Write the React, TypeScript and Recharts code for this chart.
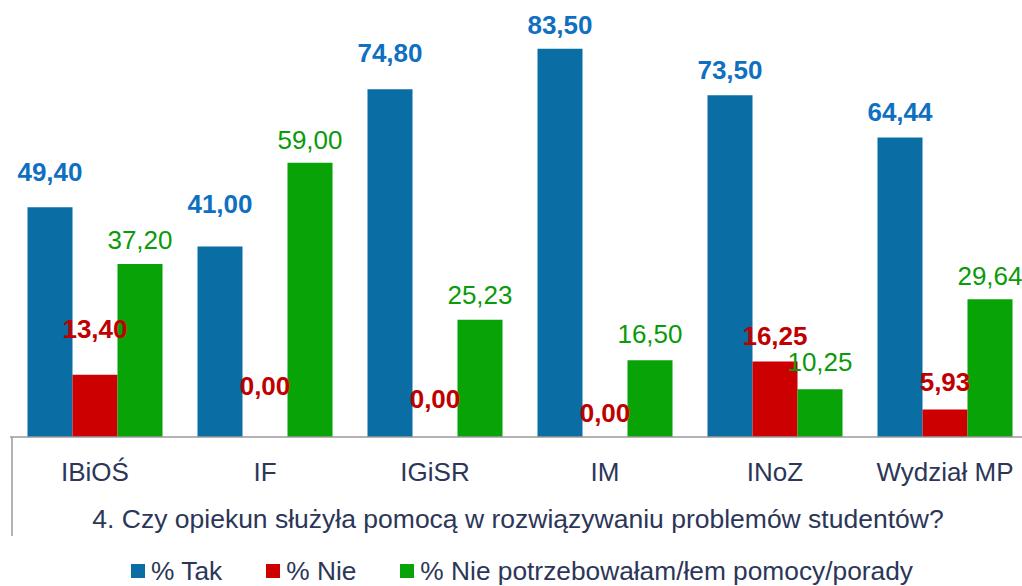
import React from 'react';
import { BarChart, Bar, XAxis, YAxis, Legend, LabelList, Label } from 'recharts';

const categories = ['IBiOŚ', 'IF', 'IGiSR', 'IM', 'INoZ', 'Wydział MP'];
const tak = [49.4, 41.0, 74.8, 83.5, 73.5, 64.44];
const nie = [13.4, 0.0, 0.0, 0.0, 16.25, 5.93];
const niePotrzebowal = [37.2, 59.0, 25.23, 16.5, 10.25, 29.64];
const seriesNames = ['% Tak', '% Nie', '% Nie potrzebowałam/łem pomocy/porady'];
const title = '4. Czy opiekun służyła pomocą w rozwiązywaniu problemów studentów?';

// label lift above bar top (style only)
const takLift = [26, 33, 27, 15, 16, 16];
const nieLift = [37, 42, 29, 15, 16, 18];
const npLift = [15, 14, 16, 17, 18, 14];

const FONT = '"Liberation Sans", Arial, sans-serif';
const TEXT = '#2C3658';
const C_TAK = '#0A6EA5';
const C_NIE = '#CC0000';
const C_NP = '#07A307';
const L_TAK = '#0F70C2';
const L_NIE = '#C00000';
const L_NP = '#0A9A0A';

const data = categories.map((c, i) => ({ name: c, tak: tak[i], nie: nie[i], np: niePotrzebowal[i] }));

const fmt = (v: number) => v.toFixed(2).replace('.', ',');

const makeLabel = (lift: number[], color: string, bold: boolean) => (props: any) => {
  const { x, y, width, height, value, index } = props;
  const top = Math.min(Number(y), Number(y) + Number(height));
  return (
    <text
      x={Number(x) + Number(width) / 2}
      y={top - (lift[index] ?? 16)}
      textAnchor="middle"
      fill={color}
      fontFamily={FONT}
      fontSize={26}
      fontWeight={bold ? 'bold' : 'normal'}
    >
      {fmt(Number(value))}
    </text>
  );
};

const Tick = (props: any) => {
  const { x, y, payload } = props;
  return (
    <text x={x} y={y + 44} textAnchor="middle" fill={TEXT} fontFamily={FONT} fontSize={26}>
      {payload.value}
    </text>
  );
};

const TitleLabel = (props: any) => {
  const vb = props.viewBox || {};
  return (
    <g>
      <line x1={12} y1={vb.y} x2={12} y2={vb.y + 99} stroke="#9a9a9a" strokeWidth={1.5} />
      <text x={vb.x + vb.width / 2 - 2} y={528} textAnchor="middle" fill={TEXT} fontFamily={FONT} fontSize={26.5}>
        {title}
      </text>
    </g>
  );
};

const colors = [C_TAK, C_NIE, C_NP];

const LegendContent = () => (
  <div
    style={{
      display: 'flex',
      justifyContent: 'center',
      alignItems: 'center',
      gap: 44,
      paddingLeft: 22,
      fontFamily: FONT,
      fontSize: 26.3,
      color: TEXT,
      lineHeight: '30px',
      whiteSpace: 'nowrap',
    }}
  >
    {seriesNames.map((n, i) => (
      <div key={n} style={{ display: 'flex', alignItems: 'center' }}>
        <span style={{ display: 'inline-block', width: 14, height: 14, background: colors[i], marginRight: 6 }} />
        <span>{n}</span>
      </div>
    ))}
  </div>
);

export default function App() {
  return (
    <div style={{ position: 'absolute', left: 0, top: 0, width: 1022, height: 586, overflow: 'hidden', background: '#fff' }}>
      <BarChart
        width={1032}
        height={586}
        data={data}
        margin={{ top: 0, right: 2, left: 10, bottom: 0 }}
        barCategoryGap={17.5}
        barGap={0}
      >
        <YAxis hide domain={[0, 94]} />
        <XAxis
          dataKey="name"
          height={119}
          tickLine={false}
          tickSize={0}
          tickMargin={0}
          axisLine={{ stroke: '#9a9a9a', strokeWidth: 1.5 }}
          tick={<Tick />}
          interval={0}
        >
          <Label content={<TitleLabel />} />
        </XAxis>
        <Legend
          verticalAlign="bottom"
          content={<LegendContent />}
          wrapperStyle={{ top: 556, left: 0, width: 1022, height: 30 }}
        />
        <Bar dataKey="tak" name={seriesNames[0]} fill={C_TAK} isAnimationActive={false}>
          <LabelList dataKey="tak" content={makeLabel(takLift, L_TAK, true)} />
        </Bar>
        <Bar dataKey="nie" name={seriesNames[1]} fill={C_NIE} minPointSize={0.01} isAnimationActive={false}>
          <LabelList dataKey="nie" content={makeLabel(nieLift, L_NIE, true)} />
        </Bar>
        <Bar dataKey="np" name={seriesNames[2]} fill={C_NP} isAnimationActive={false}>
          <LabelList dataKey="np" content={makeLabel(npLift, L_NP, false)} />
        </Bar>
      </BarChart>
    </div>
  );
}
